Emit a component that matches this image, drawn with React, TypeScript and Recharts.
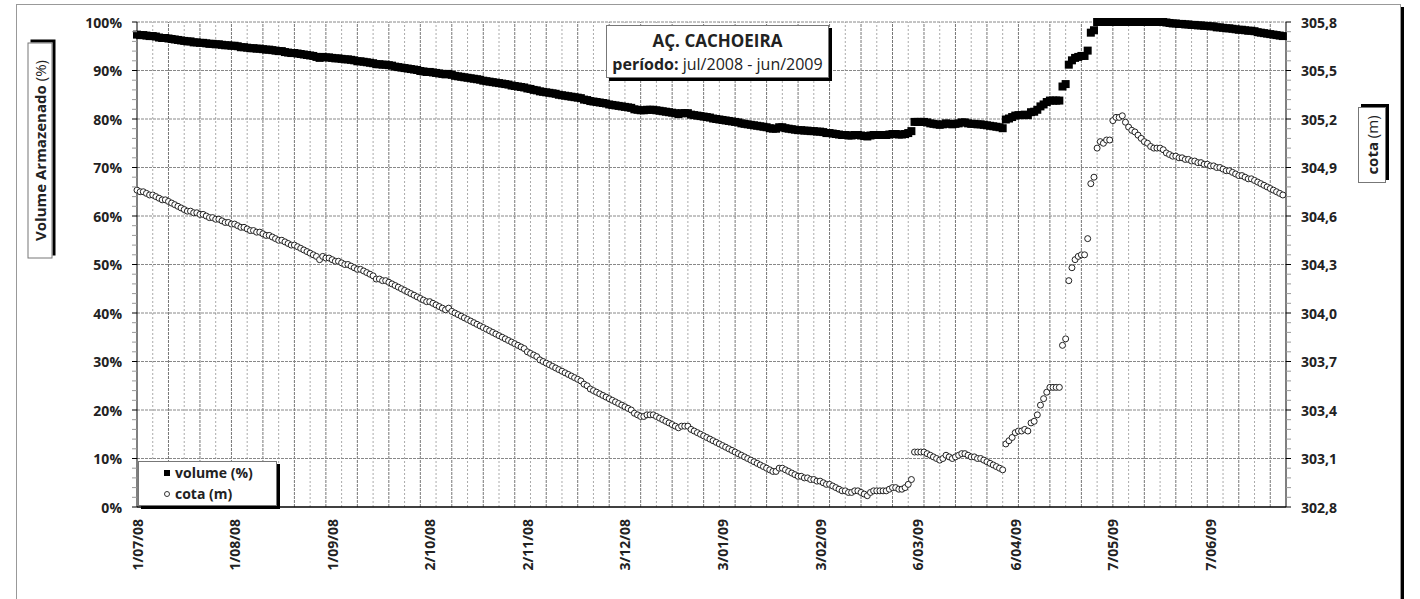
import React from "react";
import { ComposedChart, Line, XAxis, YAxis, ReferenceLine } from "recharts";

// cota (m), one reading per day from 1/07/08
const cota = [
  304.76, 304.75, 304.75, 304.74, 304.73, 304.73, 304.72, 304.71, 304.70, 304.70,
  304.69, 304.68, 304.67, 304.66, 304.65, 304.64, 304.63, 304.63, 304.62, 304.62,
  304.61, 304.61, 304.60, 304.59, 304.59, 304.58, 304.58, 304.57, 304.56, 304.56,
  304.55, 304.55, 304.54, 304.53, 304.53, 304.52, 304.51, 304.51, 304.50, 304.50,
  304.49, 304.48, 304.48, 304.47, 304.46, 304.45, 304.45, 304.44, 304.43, 304.42,
  304.42, 304.41, 304.40, 304.39, 304.38, 304.37, 304.36, 304.35, 304.33, 304.35,
  304.34, 304.34, 304.33, 304.32, 304.32, 304.31, 304.30, 304.30, 304.29, 304.28,
  304.27, 304.27, 304.26, 304.25, 304.24, 304.23, 304.21, 304.21, 304.20, 304.20,
  304.19, 304.18, 304.17, 304.16, 304.15, 304.14, 304.13, 304.12, 304.11, 304.10,
  304.09, 304.08, 304.07, 304.07, 304.06, 304.05, 304.04, 304.03, 304.02, 304.03,
  304.01, 304.00, 303.99, 303.98, 303.97, 303.96, 303.95, 303.94, 303.93, 303.92,
  303.91, 303.90, 303.89, 303.88, 303.87, 303.86, 303.85, 303.84, 303.83, 303.82,
  303.81, 303.80, 303.79, 303.78, 303.76, 303.75, 303.74, 303.73, 303.71, 303.70,
  303.69, 303.68, 303.67, 303.66, 303.65, 303.64, 303.63, 303.62, 303.61, 303.60,
  303.59, 303.58, 303.56, 303.55, 303.53, 303.52, 303.51, 303.50, 303.49, 303.48,
  303.47, 303.46, 303.45, 303.44, 303.43, 303.42, 303.41, 303.40, 303.38, 303.37,
  303.36, 303.36, 303.37, 303.37, 303.37, 303.36, 303.35, 303.34, 303.33, 303.32,
  303.31, 303.30, 303.29, 303.30, 303.30, 303.30, 303.28, 303.27, 303.26, 303.25,
  303.24, 303.23, 303.22, 303.21, 303.20, 303.19, 303.18, 303.17, 303.16, 303.15,
  303.14, 303.13, 303.12, 303.11, 303.10, 303.09, 303.08, 303.07, 303.06, 303.05,
  303.04, 303.03, 303.02, 303.02, 303.04, 303.04, 303.03, 303.02, 303.01, 303.00,
  302.99, 302.99, 302.98, 302.98, 302.97, 302.97, 302.96, 302.96, 302.95, 302.94,
  302.94, 302.93, 302.92, 302.91, 302.90, 302.90, 302.89, 302.89, 302.90, 302.90,
  302.89, 302.88, 302.87, 302.89, 302.90, 302.90, 302.90, 302.90, 302.90, 302.91,
  302.92, 302.92, 302.91, 302.91, 302.92, 302.94, 302.97, 303.14, 303.14, 303.14,
  303.14, 303.13, 303.12, 303.11, 303.10, 303.09, 303.10, 303.12, 303.11, 303.10,
  303.11, 303.12, 303.13, 303.13, 303.12, 303.11, 303.11, 303.10, 303.10, 303.09,
  303.08, 303.07, 303.06, 303.05, 303.04, 303.03, 303.19, 303.21, 303.23, 303.26,
  303.27, 303.27, 303.28, 303.27, 303.32, 303.33, 303.37, 303.43, 303.47, 303.51,
  303.54, 303.54, 303.54, 303.54, 303.80, 303.84, 304.20, 304.28, 304.33, 304.35,
  304.36, 304.36, 304.46, 304.80, 304.84, 305.02, 305.06, 305.05, 305.07, 305.07,
  305.19, 305.21, 305.21, 305.22, 305.18, 305.15, 305.13, 305.12, 305.10, 305.08,
  305.06, 305.05, 305.03, 305.02, 305.02, 305.02, 305.01, 304.99, 304.98, 304.97,
  304.97, 304.96, 304.96, 304.95, 304.95, 304.94, 304.94, 304.93, 304.93, 304.92,
  304.92, 304.91, 304.91, 304.90, 304.90, 304.89, 304.88, 304.88, 304.87, 304.86,
  304.85, 304.85, 304.84, 304.83, 304.83, 304.82, 304.81, 304.80, 304.79, 304.78,
  304.77, 304.76, 304.75, 304.74, 304.73,
];

// volume armazenado (%), same days
const volume = [
  97.4, 97.3, 97.3, 97.2, 97.1, 97.1, 97.0, 96.8, 96.7, 96.7,
  96.6, 96.5, 96.4, 96.3, 96.2, 96.1, 96.0, 96.0, 95.8, 95.8,
  95.7, 95.7, 95.6, 95.5, 95.5, 95.4, 95.4, 95.3, 95.2, 95.2,
  95.1, 95.1, 95.0, 94.8, 94.8, 94.7, 94.6, 94.6, 94.5, 94.5,
  94.4, 94.3, 94.3, 94.2, 94.1, 94.0, 94.0, 93.8, 93.7, 93.6,
  93.6, 93.5, 93.4, 93.3, 93.2, 93.1, 93.0, 92.8, 92.6, 92.8,
  92.7, 92.7, 92.6, 92.5, 92.5, 92.4, 92.3, 92.3, 92.2, 92.1,
  91.9, 91.9, 91.8, 91.7, 91.6, 91.5, 91.3, 91.3, 91.2, 91.2,
  91.1, 91.0, 90.8, 90.7, 90.6, 90.5, 90.4, 90.3, 90.2, 90.1,
  89.9, 89.8, 89.7, 89.7, 89.6, 89.5, 89.4, 89.3, 89.2, 89.3,
  89.1, 88.9, 88.8, 88.7, 88.6, 88.5, 88.4, 88.3, 88.2, 88.1,
  87.9, 87.8, 87.7, 87.6, 87.5, 87.4, 87.3, 87.2, 87.1, 86.9,
  86.8, 86.7, 86.6, 86.5, 86.3, 86.2, 86.0, 85.9, 85.7, 85.6,
  85.5, 85.4, 85.3, 85.2, 85.0, 84.9, 84.8, 84.7, 84.6, 84.5,
  84.4, 84.3, 84.0, 83.9, 83.7, 83.6, 83.5, 83.4, 83.3, 83.2,
  83.0, 82.9, 82.8, 82.7, 82.6, 82.5, 82.4, 82.3, 82.0, 81.9,
  81.8, 81.8, 81.9, 81.9, 81.9, 81.8, 81.7, 81.6, 81.5, 81.4,
  81.3, 81.2, 81.0, 81.2, 81.2, 81.2, 80.9, 80.8, 80.7, 80.6,
  80.5, 80.4, 80.3, 80.1, 80.0, 79.9, 79.8, 79.7, 79.6, 79.5,
  79.4, 79.3, 79.1, 79.0, 78.9, 78.8, 78.7, 78.6, 78.5, 78.4,
  78.3, 78.1, 78.0, 78.0, 78.3, 78.3, 78.1, 78.0, 77.9, 77.8,
  77.7, 77.7, 77.6, 77.6, 77.5, 77.5, 77.4, 77.4, 77.3, 77.1,
  77.1, 77.0, 76.9, 76.8, 76.7, 76.7, 76.6, 76.6, 76.7, 76.7,
  76.6, 76.5, 76.4, 76.6, 76.7, 76.7, 76.7, 76.7, 76.7, 76.8,
  76.9, 76.9, 76.8, 76.8, 76.9, 77.1, 77.5, 79.4, 79.4, 79.4,
  79.4, 79.3, 79.1, 79.0, 78.9, 78.8, 78.9, 79.1, 79.0, 78.9,
  79.0, 79.1, 79.3, 79.3, 79.1, 79.0, 79.0, 78.9, 78.9, 78.8,
  78.7, 78.6, 78.5, 78.4, 78.3, 78.1, 79.9, 80.1, 80.4, 80.7,
  80.8, 80.8, 80.9, 80.8, 81.4, 81.5, 81.9, 82.6, 83.0, 83.5,
  83.8, 83.8, 83.8, 83.8, 86.7, 87.2, 91.2, 92.1, 92.6, 92.8,
  93.0, 93.0, 94.1, 97.8, 98.3, 100, 100, 100, 100, 100,
  100, 100, 100, 100, 100, 100, 100, 100, 100, 100,
  100, 100, 100, 100, 100, 100, 100, 99.9, 99.8, 99.7,
  99.7, 99.6, 99.6, 99.5, 99.5, 99.4, 99.4, 99.3, 99.3, 99.2,
  99.2, 99.1, 99.1, 98.9, 98.9, 98.8, 98.7, 98.7, 98.6, 98.5,
  98.4, 98.4, 98.3, 98.2, 98.2, 98.1, 97.9, 97.8, 97.7, 97.6,
  97.5, 97.4, 97.3, 97.2, 97.1,
];

// date labels and their day offsets
const dateLabels = ["1/07/08", "1/08/08", "1/09/08", "2/10/08", "2/11/08", "3/12/08", "3/01/09", "3/02/09", "6/03/09", "6/04/09", "7/05/09", "7/06/09"];
const dateDays = [0, 31, 62, 93, 124, 155, 186, 217, 248, 279, 310, 341];

const volumeTicks = Array.from({ length: 51 }, (_, i) => i * 2);
const cotaTicks = Array.from({ length: 51 }, (_, i) => +(302.8 + i * 0.06).toFixed(2));
const gridDays = Array.from({ length: 72 }, (_, i) => (i + 1) * 5);
const gridVolume = [10, 20, 30, 40, 50, 60, 70, 80, 90, 100];

const data = cota.map((c, i) => ({ day: i, cota: c, volume: volume[i] }));

const FONT = '"Open Sans", "Noto Sans", sans-serif';

const LeftTick = (props: any) => {
  const { x, y, payload, index } = props;
  const major = index % 5 === 0;
  return (
    <g>
      <line x1={x + 10} x2={x + 15} y1={y} y2={y} stroke={major ? "#000" : "#999"} />
      {major && (
        <text x={x} y={y} textAnchor="end" dominantBaseline="central" fontFamily={FONT} fontWeight={700} fontSize={14} fill="#222">
          {payload.value}%
        </text>
      )}
    </g>
  );
};

const RightTick = (props: any) => {
  const { x, y, payload, index } = props;
  const major = index % 5 === 0;
  return (
    <g>
      <line x1={x - 10} x2={x - 15} y1={y} y2={y} stroke={major ? "#000" : "#999"} />
      {major && (
        <text x={x} y={y} textAnchor="start" dominantBaseline="central" fontFamily={FONT} fontWeight={700} fontSize={14} fill="#222">
          {Number(payload.value).toFixed(1).replace(".", ",")}
        </text>
      )}
    </g>
  );
};

const DateTick = (props: any) => {
  const { x, y, index } = props;
  return (
    <text x={x} y={y} transform={`rotate(-90, ${x}, ${y})`} textAnchor="end" dominantBaseline="central" fontFamily={FONT} fontWeight={700} fontSize={14} fill="#222">
      {dateLabels[index]}
    </text>
  );
};

const Square = (props: any) => {
  const { cx, cy, index } = props;
  if (cx == null || cy == null) return <g key={`v-${index}`} />;
  return <rect key={`v-${index}`} x={cx - 4} y={cy - 4} width={8} height={8} fill="#000" />;
};

const Circle = (props: any) => {
  const { cx, cy, index } = props;
  if (cx == null || cy == null) return <g key={`c-${index}`} />;
  return <circle key={`c-${index}`} cx={cx} cy={cy} r={3} fill="#fff" stroke="#222" strokeWidth={1} />;
};

const boxStyle: React.CSSProperties = {
  position: "absolute",
  background: "#fff",
  border: "1px solid #777",
  boxShadow: "3px 3px 0 #000",
  boxSizing: "border-box",
  fontFamily: FONT,
  color: "#222",
};

const App: React.FC = () => {
  return (
    <div style={{ position: "absolute", left: 0, top: 0, width: 1420, height: 599, overflow: "hidden", background: "#fff" }}>
      <div style={{ position: "absolute", left: 16, top: 4, width: 1385, height: 660, border: "1px solid #999", boxShadow: "3px 3px 0 #000", boxSizing: "border-box" }} />
      <div style={{ position: "absolute", left: 0, top: 0 }}>
        <ComposedChart width={1420} height={599} data={data} margin={{ top: 22, right: 74, bottom: 12, left: 77 }}>
          {gridDays.map(d => (
            <ReferenceLine key={`gx-${d}`} x={d} yAxisId="left" stroke={d % 10 === 0 ? "#777" : "#aaa"} strokeDasharray={d % 10 === 0 ? "3 1" : "2 2"} />
          ))}
          {gridVolume.map(v => (
            <ReferenceLine key={`gy-${v}`} y={v} yAxisId="left" stroke="#888" strokeDasharray="3 1" />
          ))}
          <XAxis
            dataKey="day"
            type="number"
            domain={[0, 365]}
            ticks={dateDays}
            interval={0}
            tickLine={false}
            tickSize={0}
            tickMargin={12}
            height={80}
            axisLine={{ stroke: "#000", strokeWidth: 1.5 }}
            tick={<DateTick />}
          />
          <YAxis
            yAxisId="left"
            domain={[0, 100]}
            ticks={volumeTicks}
            interval={0}
            tickLine={false}
            tickSize={5}
            tickMargin={10}
            width={60}
            axisLine={{ stroke: "#000" }}
            tick={<LeftTick />}
          />
          <YAxis
            yAxisId="right"
            orientation="right"
            domain={[302.8, 305.8]}
            ticks={cotaTicks}
            interval={0}
            tickLine={false}
            tickSize={5}
            tickMargin={10}
            width={60}
            axisLine={{ stroke: "#000" }}
            tick={<RightTick />}
          />
          <Line yAxisId="left" dataKey="volume" stroke="none" dot={Square} activeDot={false} isAnimationActive={false} />
          <Line yAxisId="right" dataKey="cota" stroke="none" dot={Circle} activeDot={false} isAnimationActive={false} />
        </ComposedChart>
      </div>

      <div style={{ ...boxStyle, left: 606, top: 25, width: 223, height: 53, textAlign: "center", paddingTop: 3 }}>
        <div style={{ fontWeight: 700, fontSize: 17, lineHeight: "24px" }}>AÇ. CACHOEIRA</div>
        <div style={{ fontSize: 16, lineHeight: "22px" }}>
          <b>período:</b> jul/2008 - jun/2009
        </div>
      </div>

      <div style={{ ...boxStyle, left: 39.5 - 108, top: 150 - 12.5, width: 216, height: 25, transform: "rotate(-90deg)", textAlign: "center", fontSize: 15, lineHeight: "23px", whiteSpace: "nowrap" }}>
        <b>Volume Armazenado</b> (%)
      </div>

      <div style={{ ...boxStyle, left: 1372 - 38, top: 145 - 14, width: 76, height: 28, transform: "rotate(-90deg)", textAlign: "center", fontSize: 15, lineHeight: "26px", whiteSpace: "nowrap" }}>
        <b>cota</b> (m)
      </div>

      <div style={{ ...boxStyle, left: 138, top: 461, width: 139, height: 45, fontSize: 14, fontWeight: 700 }}>
        <div style={{ position: "absolute", left: 25, top: 8, width: 6, height: 6, background: "#000" }} />
        <div style={{ position: "absolute", left: 36, top: 1, lineHeight: "20px" }}>volume (%)</div>
        <div style={{ position: "absolute", left: 25, top: 29, width: 6, height: 6, borderRadius: "50%", border: "1px solid #333", boxSizing: "border-box" }} />
        <div style={{ position: "absolute", left: 36, top: 22, lineHeight: "20px" }}>cota (m)</div>
      </div>
    </div>
  );
};

export default App;
